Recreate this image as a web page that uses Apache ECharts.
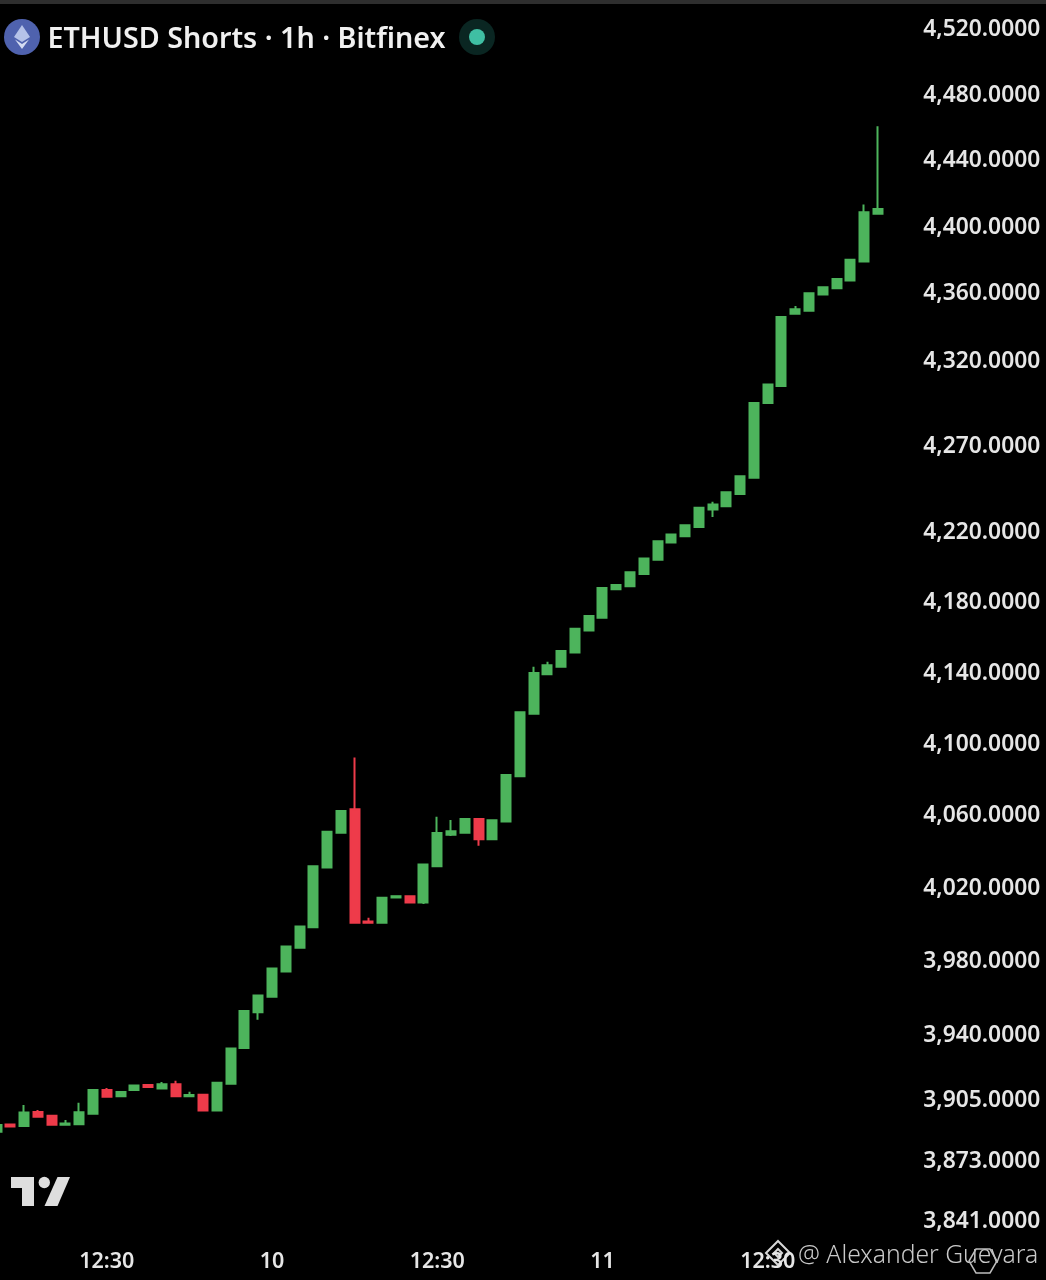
<!DOCTYPE html>
<html>
<head>
<meta charset="utf-8">
<style>html,body{margin:0;padding:0;background:#000;width:1046px;height:1280px;overflow:hidden}#c{width:1046px;height:1280px;filter:blur(0.45px)}</style>
<script src="https://cdn.jsdelivr.net/npm/echarts@6/dist/echarts.min.js"></script>
</head>
<body>
<div id="c"></div>
<script>
const title = 'ETHUSD Shorts · 1h · Bitfinex';
const watermark = '@ Alexander Guevara';
const priceTicks = [3841,3873,3905,3940,3980,4020,4060,4100,4140,4180,4220,4270,4320,4360,4400,4440,4480,4520];
const timeTickIndexes = [8,20,32,44,56];
const timeTickLabels = ['12:30','10','12:30','11','12:30'];
const slotCount = 67;

const opens = [3887,3890.9,3890.1,3897.5,3895.6,3890.8,3891,3896.6,3909.2,3905.9,
  3909.2,3911.9,3910.1,3912.4,3905.9,3906.7,3898.4,3912.6,3931.7,3951,
  3959.4,3973,3986,3997.1,4029.8,4049,4062.1,4000.3,3999.6,4013.4,
  4014.1,4010.7,4030.6,4047.9,4049,4056.7,4045.5,4055.2,4080.4,4115.4,
  4137.6,4141.9,4149.9,4162.4,4169.7,4185.9,4187.6,4194.7,4202.9,4212.7,
  4216.4,4221.7,4231.8,4233.6,4240.8,4250.1,4293.7,4303.7,4346.4,4348.2,
  4357.8,4361.6,4366.2,4377.6,4406.2];
const closes = [3890.6,3889.8,3897.3,3895,3890.8,3891.4,3897.4,3909.2,3905.7,3908.2,
  3911.7,3910.8,3912.4,3905.9,3906.6,3898.4,3913.1,3931.5,3951.7,3960,
  3974.6,3986.6,3997.5,4030.6,4049.6,4061.1,3999.6,3999.6,4013.3,4014.1,
  4010.7,4031.5,4048.9,4049.8,4056.7,4045.5,4055.9,4081.1,4116.2,4138.3,
  4142.7,4150.8,4163.4,4170.7,4186.7,4188.4,4195.6,4203.6,4213.5,4217.3,
  4222.7,4232.8,4234.6,4241.7,4251,4293.7,4304.7,4344.5,4349.1,4358.6,
  4362.2,4367.1,4378.6,4407.1,4409.1];
const lows = [3887,3889.8,3890.1,3895,3890.8,3890.8,3891,3896.6,3905.7,3905.9,
  3909.2,3910.8,3910.1,3905.9,3905.9,3898.4,3898.4,3912.6,3931.7,3947,
  3959.4,3973,3986,3997.1,4029.8,4049,3999.6,3999.6,3999.6,4013.4,
  4010.7,4009.8,4030.6,4047.2,4049,4041.8,4045.5,4055.2,4080.4,4115.4,
  4137.6,4141.9,4149.9,4162.4,4169.7,4185.9,4187.6,4194.7,4202.9,4212.7,
  4216.4,4221.7,4227.4,4233.6,4240.8,4250.1,4293.7,4303.7,4346.4,4348.2,
  4357.8,4361.6,4366.2,4377.6,4406.2];
const highs = [3890.6,3890.9,3901.3,3898.6,3895.6,3893.3,3902.5,3909.2,3910.3,3908.2,
  3911.7,3912.4,3913.5,3914.2,3908.3,3906.7,3913.1,3931.5,3951.7,3960,
  3974.6,3986.6,3997.5,4030.6,4049.6,4061.1,4090.9,4002.3,4013.3,4014.1,
  4014.1,4031.5,4057.9,4056.1,4056.7,4056.7,4055.9,4081.1,4116.2,4141.9,
  4144.7,4150.8,4163.4,4170.7,4186.7,4188.4,4195.6,4203.6,4213.5,4217.3,
  4222.7,4232.8,4236.3,4241.7,4251,4293.7,4304.7,4344.5,4351,4358.6,
  4362.2,4367.1,4378.6,4411.7,4459.2];

const categories = Array.from({length: slotCount}, (_, i) => String(i));
const candles = opens.map((o, i) => [o, closes[i], lows[i], highs[i]]);
const GREEN = '#4DB45C', RED = '#EE3B4A';
const FONT = '"Noto Sans","Open Sans",sans-serif';

const chart = echarts.init(document.getElementById('c'), null, {renderer: 'canvas'});
chart.setOption({
  backgroundColor: '#000',
  animation: false,
  title: {
    text: title, left: 42.5, top: 20,
    textStyle: {color: '#F0F0F0', fontFamily: FONT, fontSize: 28.7, fontWeight: 600}
  },
  grid: {left: -10.3, right: 133.7, top: 27, bottom: 61, containLabel: false, outerBoundsMode: 'none'},
  xAxis: {
    type: 'category', data: categories, boundaryGap: true,
    axisLine: {show: false}, axisTick: {show: false}, splitLine: {show: false},
    axisLabel: {
      color: '#E6E6E6', fontFamily: FONT, fontSize: 21.5, fontWeight: 600, margin: 32,
      interval: (i) => timeTickIndexes.includes(i),
      formatter: (v, i) => timeTickLabels[timeTickIndexes.indexOf(Number(v))] || ''
    }
  },
  yAxis: {
    type: 'log', logBase: 10, position: 'right', min: 3841, max: 4520,
    axisLine: {show: false}, axisTick: {show: false}, splitLine: {show: false},
    axisLabel: {
      customValues: priceTicks, showMinLabel: true, showMaxLabel: true,
      color: '#E6E6E6', fontFamily: FONT, fontSize: 22.8, fontWeight: 600, margin: 11,
      verticalAlign: 'top', lineHeight: 6,
      formatter: (v) => Number(v).toLocaleString('en-US', {minimumFractionDigits: 4, maximumFractionDigits: 4})
    }
  },
  series: [{
    type: 'candlestick', data: candles, barWidth: 9.5, clip: false,
    itemStyle: {color: GREEN, color0: RED, borderColor: GREEN, borderColor0: RED, borderWidth: 2}
  }],
  graphic: [
    {type: 'rect', shape: {x: 0, y: 0, width: 1046, height: 4}, style: {fill: '#2E2E2E'}},
    {type: 'circle', shape: {cx: 22, cy: 37, r: 18}, style: {fill: '#4F62AE'}},
    {type: 'polygon', shape: {points: [[22,25],[30,37],[22,42],[14,37]]}, style: {fill: '#B5C2E8'}},
    {type: 'polygon', shape: {points: [[22,44],[29,39.5],[22,49],[15,39.5]]}, style: {fill: '#D4DCF2'}},
    {type: 'circle', shape: {cx: 477, cy: 37, r: 18}, style: {fill: '#0A2622'}},
    {type: 'circle', shape: {cx: 477, cy: 37, r: 8}, style: {fill: '#3FBFA3'}},
    {type: 'polygon', shape: {points: [[11,1177],[34,1177],[34,1206],[22,1206],[22,1188],[11,1188]]}, style: {fill: '#DEDEDE'}},
    {type: 'circle', shape: {cx: 44.3, cy: 1182.5, r: 5.7}, style: {fill: '#DEDEDE'}},
    {type: 'polygon', shape: {points: [[57.5,1177],[70,1177],[57.5,1206],[44.5,1206]]}, style: {fill: '#DEDEDE'}},
    {type: 'text', style: {x: 798, y: 1256, text: watermark, fill: '#C9C9C9', font: '300 24.7px ' + FONT, textVerticalAlign: 'middle'}},
    {type: 'polygon', shape: {points: [[778,1241],[790,1253],[778,1265],[766,1253]]}, style: {fill: 'none', stroke: '#D8D8D8', lineWidth: 2}},
    {type: 'polygon', shape: {points: [[778,1249],[782,1253],[778,1257],[774,1253]]}, style: {fill: 'none', stroke: '#D8D8D8', lineWidth: 2}},
    {type: 'polygon', shape: {points: [[976,1249],[990,1249],[997,1261],[990,1273],[976,1273],[969,1261]]}, style: {fill: 'none', stroke: '#BDBDBD', lineWidth: 1.5}}
  ]
});
</script>
</body>
</html>
